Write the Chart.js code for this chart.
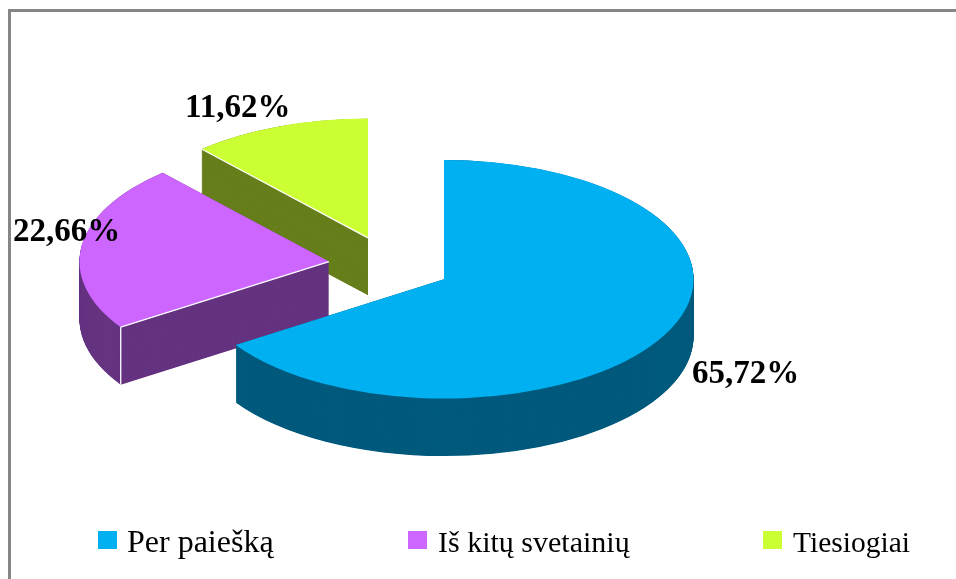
<!DOCTYPE html>
<html>
<head>
<meta charset="utf-8">
<style>html,body{margin:0;padding:0;background:#fff;overflow:hidden}canvas{display:block}</style>
<script src="https://cdn.jsdelivr.net/npm/chart.js@4"></script>
</head>
<body>
<canvas id="c" width="956" height="579"></canvas>
<script>
const categories = ["Per paiešką", "Iš kitų svetainių", "Tiesiogiai"];
const shares = [65.72, 22.66, 11.62];
const valueLabels = ["65,72%", "22,66%", "11,62%"];
const topColors = ["#00b0f0", "#cc66ff", "#ccff33"];
const wallColors = ["#005a7d", "#653380", "#677f1c"];

const SERIF = '"Liberation Serif", "Times New Roman", serif';
const center = {x: 390, y: 265.3};
const tilt = 0.478, depth = 57.5, explode = 61.5;
const labelAnchors = [[692, 383], [13, 241], [185, 117]];
const whiteEdges = [false, true, true];
const whiteCorner = [false, true, false];
const legendBoxX = [98, 408, 763];
const legendTextX = [127, 438, 793];
const legendFontPx = [32, 30, 29.5];

const pie3d = {
  id: 'pie3d',
  beforeDraw(chart) {
    const ctx = chart.ctx;
    ctx.save();
    ctx.fillStyle = '#fff';
    ctx.fillRect(0, 0, chart.width, chart.height);
    ctx.fillStyle = '#868686';
    ctx.fillRect(8, 9, chart.width - 8, 3);
    ctx.fillRect(8, 9, 3, chart.height - 9);
    ctx.restore();
  },
  beforeDatasetDraw(chart, args) {
    const ctx = chart.ctx;
    const arcs = args.meta.data;
    for (let i = arcs.length - 1; i >= 0; i--) {
      const el = arcs[i];
      const mid = (el.startAngle + el.endAngle) / 2;
      ctx.save();
      ctx.translate(Math.round(center.x + Math.cos(mid) * explode) - el.x,
                    center.y + Math.sin(mid) * explode * tilt);
      ctx.scale(1, tilt);
      ctx.translate(0, -el.y);
      // extruded side wall
      ctx.fillStyle = wallColors[i];
      const logicalDepth = depth / tilt;
      for (let d = logicalDepth; d > 0; d -= 1) {
        ctx.beginPath();
        ctx.moveTo(el.x, el.y + d);
        ctx.arc(el.x, el.y + d, el.outerRadius, el.startAngle, el.endAngle);
        ctx.closePath();
        ctx.fill();
      }
      // top face drawn by the library's own arc element
      el.draw(ctx);
      // thin white seams along the visible straight wall
      const ex = el.x + Math.cos(el.startAngle) * el.outerRadius;
      const ey = el.y + Math.sin(el.startAngle) * el.outerRadius;
      ctx.strokeStyle = '#fff';
      ctx.lineWidth = 1.3;
      if (whiteEdges[i]) {
        ctx.save();
        ctx.beginPath();
        ctx.moveTo(el.x, el.y);
        ctx.lineTo(ex, ey);
        ctx.setTransform(1, 0, 0, 1, 0, 0);
        ctx.stroke();
        ctx.restore();
      }
      if (whiteCorner[i]) {
        ctx.save();
        ctx.beginPath();
        ctx.moveTo(ex, ey);
        ctx.lineTo(ex, ey + logicalDepth);
        ctx.setTransform(1, 0, 0, 1, 0, 0);
        ctx.stroke();
        ctx.restore();
      }
      ctx.restore();
    }
    return false;
  },
  afterDatasetsDraw(chart) {
    const ctx = chart.ctx;
    ctx.save();
    ctx.fillStyle = '#000';
    ctx.font = 'bold 33px ' + SERIF;
    ctx.textAlign = 'left';
    ctx.textBaseline = 'alphabetic';
    valueLabels.forEach((t, i) => ctx.fillText(t, labelAnchors[i][0], labelAnchors[i][1]));
    // legend row
    categories.forEach((t, i) => {
      ctx.fillStyle = topColors[i];
      ctx.fillRect(legendBoxX[i], 531, 19, 18);
      ctx.fillStyle = '#000';
      ctx.font = legendFontPx[i] + 'px ' + SERIF;
      ctx.fillText(t, legendTextX[i], 552);
    });
    ctx.restore();
  }
};

new Chart(document.getElementById('c'), {
  type: 'pie',
  data: {
    labels: categories,
    datasets: [{
      data: shares,
      backgroundColor: topColors,
      borderWidth: 0,
      radius: 249.5,
      clip: false
    }]
  },
  options: {
    responsive: false,
    animation: false,
    events: [],
    plugins: {
      tooltip: {enabled: false},
      legend: {display: false}
    }
  },
  plugins: [pie3d]
});
</script>
</body>
</html>
